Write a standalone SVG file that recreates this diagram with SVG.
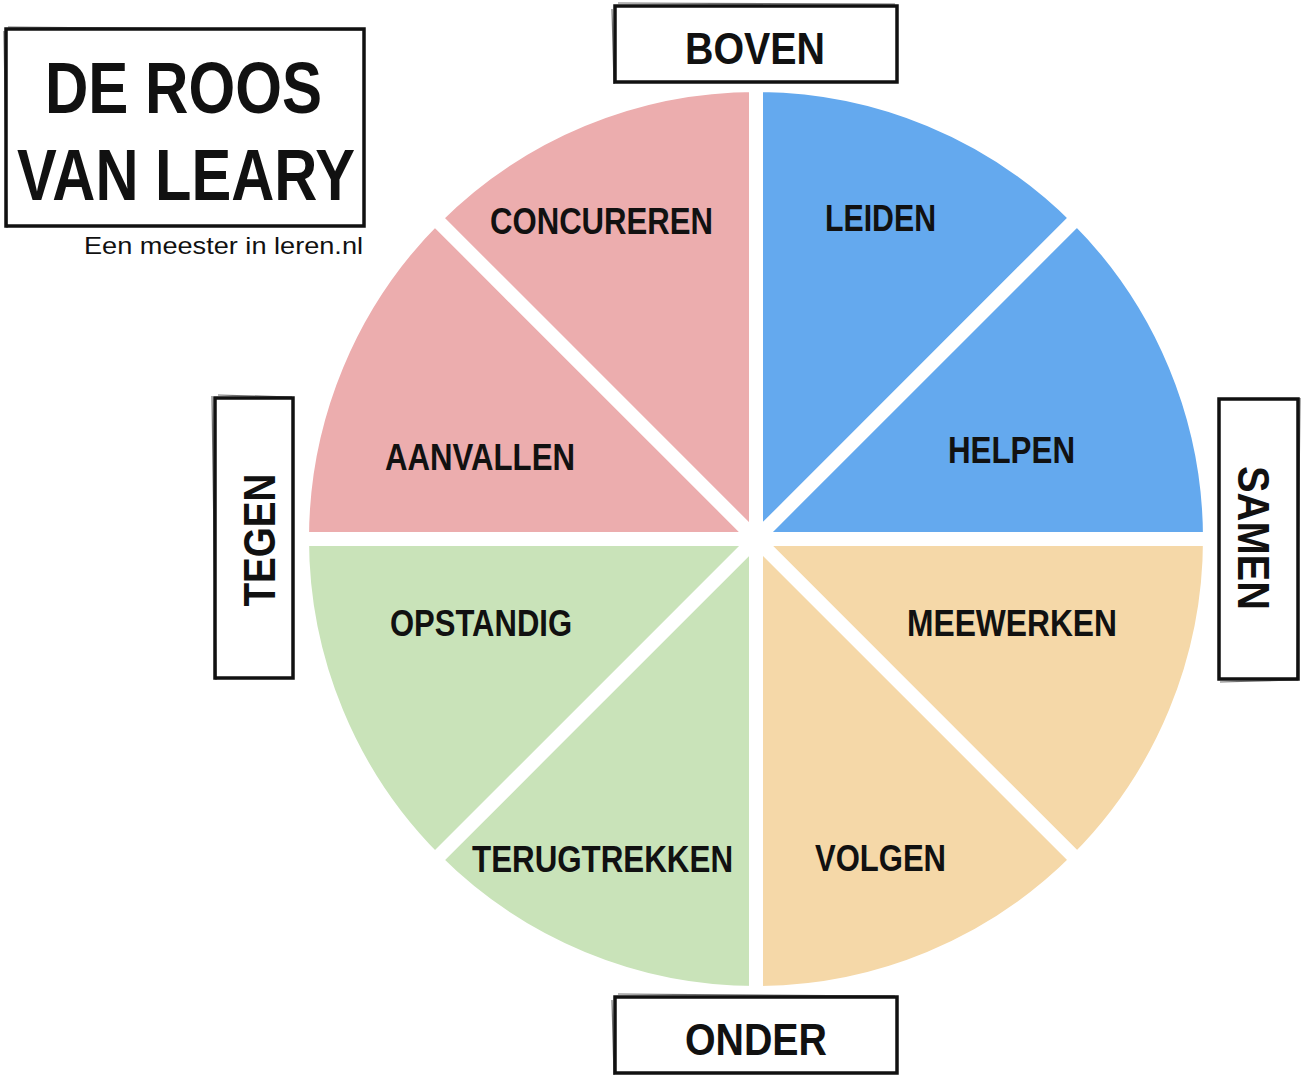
<svg xmlns="http://www.w3.org/2000/svg" width="1309" height="1079" viewBox="0 0 1309 1079">
<style>
.sec{stroke:#fff;stroke-width:14;stroke-linejoin:round}
.lbl{font-family:"Liberation Sans",Arial,sans-serif;font-weight:bold;font-size:37px;fill:#111}
.box{fill:#fff;stroke:#111;stroke-width:3.5}
.boxs{fill:none;stroke:#111;stroke-width:1.2;opacity:0.6}
.ax{font-family:"Liberation Sans",Arial,sans-serif;font-weight:bold;font-size:45px;fill:#111}
.title{font-family:"Liberation Sans",Arial,sans-serif;font-weight:bold;font-size:72px;fill:#111}
.sub{font-family:"Liberation Sans",Arial,sans-serif;font-size:24px;fill:#111}
</style>
<rect width="1309" height="1079" fill="#fff"/>
<g id="sectors">
<g id="leiden"><path class="sec" fill="#64A9EE" d="M756,539 L756,85 A454,454 0 0 1 1077.03,217.97 Z"/><text class="lbl" x="825" y="231" textLength="111" lengthAdjust="spacingAndGlyphs">LEIDEN</text></g>
<g id="helpen"><path class="sec" fill="#64A9EE" d="M756,539 L1077.03,217.97 A454,454 0 0 1 1210,539 Z"/><text class="lbl" x="948" y="463" textLength="127" lengthAdjust="spacingAndGlyphs">HELPEN</text></g>
<g id="meewerken"><path class="sec" fill="#F5D8A8" d="M756,539 L1210,539 A454,454 0 0 1 1077.03,860.03 Z"/><text class="lbl" x="907" y="636" textLength="210" lengthAdjust="spacingAndGlyphs">MEEWERKEN</text></g>
<g id="volgen"><path class="sec" fill="#F5D8A8" d="M756,539 L1077.03,860.03 A454,454 0 0 1 756,993 Z"/><text class="lbl" x="815" y="871" textLength="131" lengthAdjust="spacingAndGlyphs">VOLGEN</text></g>
<g id="terugtrekken"><path class="sec" fill="#C9E3B9" d="M756,539 L756,993 A454,454 0 0 1 434.97,860.03 Z"/><text class="lbl" x="472" y="872" textLength="261" lengthAdjust="spacingAndGlyphs">TERUGTREKKEN</text></g>
<g id="opstandig"><path class="sec" fill="#C9E3B9" d="M756,539 L434.97,860.03 A454,454 0 0 1 302,539 Z"/><text class="lbl" x="390" y="636" textLength="182" lengthAdjust="spacingAndGlyphs">OPSTANDIG</text></g>
<g id="aanvallen"><path class="sec" fill="#ECADAE" d="M756,539 L302,539 A454,454 0 0 1 434.97,217.97 Z"/><text class="lbl" x="385" y="470" textLength="190" lengthAdjust="spacingAndGlyphs">AANVALLEN</text></g>
<g id="concureren"><path class="sec" fill="#ECADAE" d="M756,539 L434.97,217.97 A454,454 0 0 1 756,85 Z"/><text class="lbl" x="490" y="234" textLength="223" lengthAdjust="spacingAndGlyphs">CONCUREREN</text></g>
</g>
<g id="title">
<rect class="box" x="6" y="29" width="358" height="197"/>
<path class="boxs" d="M8,27 L362,30 M4,31 L7,228"/>
<text class="title" x="45" y="113" textLength="277" lengthAdjust="spacingAndGlyphs">DE ROOS</text>
<text class="title" x="17" y="200" textLength="338" lengthAdjust="spacingAndGlyphs">VAN LEARY</text>
<text class="sub" x="84" y="254" textLength="279" lengthAdjust="spacingAndGlyphs">Een meester in leren.nl</text>
</g>
<g id="boven">
<rect class="box" x="615" y="6" width="282" height="76"/>
<path class="boxs" d="M618,3 L895,4 M612,9 L614,84"/>
<text class="ax" x="685" y="64" textLength="140" lengthAdjust="spacingAndGlyphs">BOVEN</text>
</g>
<g id="onder">
<rect class="box" x="615" y="997" width="282" height="76"/>
<path class="boxs" d="M618,994 L895,996 M612,1000 L614,1075"/>
<text class="ax" x="685" y="1055" textLength="142" lengthAdjust="spacingAndGlyphs">ONDER</text>
</g>
<g id="tegen">
<rect class="box" x="215" y="398" width="78" height="280"/>
<path class="boxs" d="M212,396 L216,680 M218,395 L292,397"/>
<text class="ax" transform="translate(275,540) rotate(-90)" text-anchor="middle" textLength="133" lengthAdjust="spacingAndGlyphs">TEGEN</text>
</g>
<g id="samen">
<rect class="box" x="1219" y="399" width="79" height="280"/>
<path class="boxs" d="M1300,398 L1297,681 M1220,682 L1296,680"/>
<text class="ax" transform="translate(1238,538) rotate(90)" text-anchor="middle" textLength="144" lengthAdjust="spacingAndGlyphs">SAMEN</text>
</g>
<g id="connectors"/>
</svg>
